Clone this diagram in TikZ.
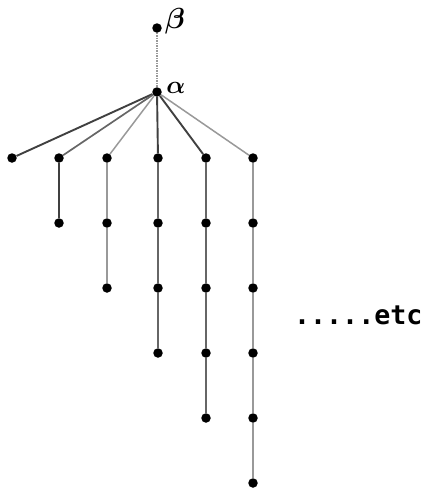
\documentclass[tikz,border=0pt]{standalone}
\usepackage{fontspec}
\usepackage{amsmath,amsbsy,graphicx}
\newfontfamily\etcfont{DejaVu Sans Mono}
\begin{document}
\begin{tikzpicture}[x=1pt,y=-1pt,
  dot/.style={circle,fill=black,inner sep=0pt,minimum size=9.5pt},
  edgedark/.style={draw=black!75,line width=1.9pt},
  edgemid/.style={draw=black!60,line width=1.7pt},
  edgelight/.style={draw=black!40,line width=1.5pt},
  lbl/.style={inner sep=0pt}]
\useasboundingbox (0,0) rectangle (422,488);
\node[dot] (b) at (157,28) {};
\node[dot] (a) at (157,92) {};
\node[lbl] (bl) at (175,21) {\scalebox{2.9}{$\boldsymbol{\beta}$}};
\node[lbl] (al) at (176,88) {\scalebox{2.5}{$\boldsymbol{\alpha}$}};
\node[dot] (leaf) at (12,158) {};
% columns
\foreach \c/\x/\n in {1/59/2,2/107/3,3/158/4,4/206/5,5/253/6}{
  \foreach \r [evaluate=\r as \y using 158+65*(\r-1)] in {1,...,\n}{
    \node[dot] (c\c r\r) at (\x,\y) {};
  }
}
\draw[edgelight,densely dotted] (b) -- (a);
\draw[edgedark] (a) -- (leaf);
\draw[edgemid] (a) -- (c1r1);
\draw[edgelight] (a) -- (c2r1);
\draw[edgedark] (a) -- (c3r1);
\draw[edgedark] (a) -- (c4r1);
\draw[edgelight] (a) -- (c5r1);
\draw[edgedark] (c1r1) -- (c1r2);
\draw[edgelight] (c2r1) -- (c2r2) -- (c2r3);
\draw[edgemid] (c3r1) -- (c3r2) -- (c3r3) -- (c3r4);
\draw[edgemid] (c4r1) -- (c4r2) -- (c4r3) -- (c4r4) -- (c4r5);
\draw[edgelight] (c5r1) -- (c5r2) -- (c5r3) -- (c5r4) -- (c5r5) -- (c5r6);
\node[anchor=base west,inner sep=0pt,font=\etcfont\bfseries\fontsize{26.6}{30}\selectfont] (etc) at (294,324) {.....etc};
\end{tikzpicture}
\end{document}
